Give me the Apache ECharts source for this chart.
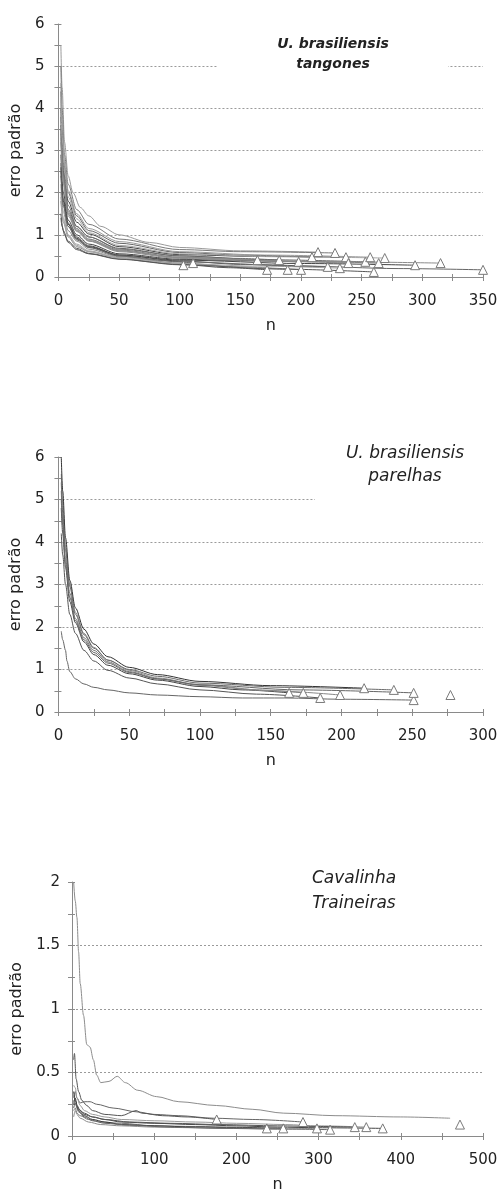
<!DOCTYPE html>
<html>
<head>
<meta charset="utf-8">
<script src="https://cdn.jsdelivr.net/npm/echarts@6/dist/echarts.min.js"></script>
<style>html,body{margin:0;padding:0;background:#fff}#c{width:501px;height:1195px}</style>
</head>
<body>
<div id="c"></div>
<script>
// ---------- DATA ----------
// Panel 1: U. brasiliensis tangones  (each curve: [n, erro padrão])
const tangCurves = [
  [[2,1.8],[4,1.3],[8,0.95],[15,0.72],[25,0.6],[50,0.45],[75,0.36],[103,0.28]],
  [[2,2.4],[4,1.7],[8,1.2],[15,0.9],[25,0.7],[50,0.5],[80,0.4],[111,0.33]],
  [[2,3.4],[4,2.3],[8,1.5],[15,1.12],[25,0.88],[50,0.62],[100,0.46],[130,0.43],[164,0.40]],
  [[2,1.5],[4,1.1],[8,0.85],[15,0.68],[25,0.56],[50,0.43],[100,0.3],[140,0.22],[172,0.17]],
  [[2,3.8],[3,3.0],[5,2.2],[8,1.7],[15,1.2],[25,0.95],[50,0.66],[100,0.5],[150,0.44],[182,0.40]],
  [[2,2.0],[4,1.4],[8,1.0],[15,0.78],[25,0.62],[50,0.46],[100,0.32],[150,0.24],[189,0.17]],
  [[2,2.9],[4,2.0],[8,1.35],[15,1.0],[25,0.78],[50,0.55],[100,0.42],[150,0.39],[198,0.36]],
  [[2,2.2],[4,1.55],[8,1.1],[15,0.85],[25,0.66],[50,0.48],[100,0.33],[150,0.24],[200,0.17]],
  [[2,4.4],[3,3.5],[5,2.6],[8,2.0],[15,1.45],[25,1.1],[50,0.8],[100,0.58],[150,0.52],[209,0.47]],
  [[2,5.5],[3,4.5],[5,3.2],[8,2.4],[12,2.0],[18,1.65],[25,1.45],[35,1.2],[50,1.0],[75,0.82],[100,0.7],[150,0.62],[214,0.59]],
  [[2,2.7],[4,1.85],[8,1.28],[15,0.95],[25,0.74],[50,0.52],[100,0.38],[150,0.3],[222,0.24]],
  [[2,5.0],[3,4.0],[5,2.9],[8,2.2],[15,1.6],[25,1.25],[50,0.9],[100,0.65],[150,0.6],[228,0.57]],
  [[2,1.9],[4,1.35],[8,0.98],[15,0.75],[25,0.6],[50,0.44],[100,0.32],[160,0.26],[232,0.21]],
  [[2,4.0],[3,3.2],[5,2.4],[8,1.8],[15,1.3],[25,1.02],[50,0.72],[100,0.53],[160,0.49],[237,0.47]],
  [[2,3.2],[4,2.2],[8,1.45],[15,1.08],[25,0.85],[50,0.6],[100,0.44],[160,0.38],[239,0.33]],
  [[2,3.6],[4,2.45],[8,1.6],[15,1.2],[25,0.95],[50,0.68],[100,0.5],[170,0.41],[253,0.36]],
  [[2,4.6],[3,3.7],[5,2.7],[8,2.05],[15,1.5],[25,1.15],[50,0.84],[100,0.6],[170,0.52],[257,0.47]],
  [[2,1.4],[3,1.2],[5,1.0],[8,0.82],[15,0.65],[25,0.55],[50,0.42],[100,0.29],[180,0.19],[260,0.12]],
  [[2,3.5],[4,2.4],[8,1.55],[15,1.15],[25,0.9],[50,0.64],[100,0.47],[180,0.38],[264,0.33]],
  [[2,4.2],[3,3.3],[5,2.5],[8,1.9],[15,1.38],[25,1.05],[50,0.75],[100,0.55],[180,0.48],[269,0.45]],
  [[2,2.6],[4,1.8],[8,1.25],[15,0.92],[25,0.72],[50,0.52],[100,0.4],[200,0.32],[294,0.28]],
  [[2,3.3],[4,2.25],[8,1.5],[15,1.1],[25,0.86],[50,0.62],[100,0.46],[200,0.37],[315,0.33]],
  [[2,2.5],[4,1.7],[8,1.2],[15,0.88],[25,0.7],[50,0.5],[100,0.36],[200,0.26],[280,0.2],[350,0.17]]
];
// Panel 2: U. brasiliensis parelhas
const parCurves = [
  [[2,1.9],[3,1.7],[5,1.45],[6,1.2],[8,0.95],[12,0.78],[18,0.66],[25,0.58],[35,0.52],[50,0.45],[70,0.4],[100,0.36],[130,0.33],[160,0.33],[200,0.3],[251,0.28]],
  [[2,4.8],[3,4.2],[5,3.4],[8,2.6],[12,2.1],[18,1.65],[25,1.35],[35,1.1],[50,0.9],[70,0.75],[100,0.6],[130,0.52],[163,0.45]],
  [[2,5.2],[3,4.5],[5,3.6],[8,2.8],[12,2.2],[18,1.75],[25,1.45],[35,1.18],[50,0.95],[70,0.78],[100,0.63],[140,0.52],[173,0.45]],
  [[2,4.2],[3,3.7],[5,3.0],[8,2.3],[12,1.85],[18,1.45],[25,1.2],[35,0.98],[50,0.8],[70,0.66],[100,0.52],[140,0.42],[185,0.33]],
  [[2,5.6],[3,4.9],[5,3.9],[8,3.0],[12,2.35],[18,1.85],[25,1.52],[35,1.22],[50,0.98],[70,0.8],[100,0.64],[150,0.5],[199,0.40]],
  [[2,6.0],[3,5.2],[5,4.1],[8,3.1],[12,2.45],[18,1.95],[25,1.6],[35,1.3],[50,1.05],[70,0.88],[100,0.72],[150,0.62],[216,0.56]],
  [[2,5.4],[3,4.7],[5,3.8],[8,2.95],[12,2.3],[18,1.82],[25,1.5],[35,1.22],[50,1.0],[70,0.84],[100,0.68],[160,0.58],[237,0.52]],
  [[2,5.0],[3,4.4],[5,3.5],[8,2.7],[12,2.15],[18,1.7],[25,1.4],[35,1.15],[50,0.93],[70,0.78],[100,0.64],[170,0.52],[251,0.45]],
  [[277,0.40]]
];
// Panel 3: Cavalinha Traineiras
const cavCurves = [
  [[2,2.0],[4,1.85],[6,1.72],[8,1.45],[10,1.2],[14,0.95],[18,0.72],[22,0.7],[26,0.6],[30,0.48],[35,0.42],[45,0.43],[55,0.47],[65,0.42],[80,0.36],[103,0.31],[130,0.27],[176,0.24],[220,0.21],[257,0.18],[320,0.16],[400,0.15],[460,0.14]],
  [[2,0.3],[4,0.35],[6,0.3],[10,0.26],[15,0.27],[22,0.27],[30,0.25],[50,0.22],[79,0.19],[100,0.17],[130,0.16],[172,0.14],[220,0.13],[281,0.11]],
  [[2,0.6],[3,0.65],[5,0.45],[8,0.35],[12,0.28],[18,0.24],[25,0.2],[40,0.17],[60,0.16],[78,0.2],[85,0.18],[110,0.16],[140,0.15],[176,0.13]],
  [[2,0.4],[4,0.38],[6,0.3],[10,0.24],[15,0.2],[25,0.17],[40,0.15],[60,0.13],[100,0.12],[150,0.11],[200,0.1],[260,0.09],[300,0.08],[358,0.07]],
  [[2,0.25],[4,0.3],[6,0.24],[10,0.2],[15,0.17],[25,0.15],[40,0.13],[60,0.11],[100,0.1],[150,0.09],[200,0.08],[250,0.07],[300,0.065],[378,0.06]],
  [[2,0.2],[4,0.22],[6,0.18],[10,0.16],[20,0.13],[35,0.11],[60,0.1],[100,0.08],[150,0.075],[200,0.07],[237,0.06]],
  [[2,0.35],[4,0.28],[8,0.2],[15,0.16],[25,0.13],[40,0.11],[60,0.09],[100,0.08],[150,0.07],[200,0.065],[257,0.06]],
  [[2,0.15],[4,0.2],[6,0.17],[10,0.14],[20,0.11],[35,0.09],[60,0.08],[100,0.07],[150,0.065],[200,0.06],[250,0.055],[298,0.06]],
  [[2,0.28],[4,0.25],[8,0.19],[15,0.15],[25,0.12],[40,0.1],[70,0.085],[120,0.07],[180,0.06],[250,0.055],[314,0.05]],
  [[2,0.22],[4,0.26],[8,0.21],[15,0.18],[25,0.15],[40,0.13],[70,0.11],[120,0.1],[180,0.09],[250,0.08],[300,0.075],[344,0.07]],
  [[472,0.09]]
];
// curves whose last point carries no triangle marker: [panel, curve]
const unmarked = [[2, 0]];
// axis ranges: [min, max, label interval]
const tangX = [0, 350, 50], tangY = [0, 6, 1];
const parX = [0, 300, 50],  parY = [0, 6, 1];
const cavX = [0, 500, 100], cavY = [0, 2, 0.5];
const titles = ['U. brasiliensis\ntangones', 'U. brasiliensis\nparelhas', 'Cavalinha\nTraineiras'];
const xName = 'n', yName = 'erro padrão';

// ---------- CHART ----------
const FONT = 'DejaVu Sans';
const AX = '#8a8a8a';
const grids = [
  {left: 57, right: 18, top: 24, height: 253},
  {left: 57, right: 18, top: 457, height: 255},
  {left: 72, right: 18, top: 882, height: 254}
];
const ranges = [[tangX, tangY], [parX, parY], [cavX, cavY]];
const yGaps = [30, 30, 45];
const yMargins = [14, 14, 12];
const palettes = [
  ['#8c8c8c','#666','#9a9a9a','#555','#7a7a7a','#a5a5a5','#444'],
  ['#666','#444','#777','#555','#888','#333','#6a6a6a'],
  ['#8c8c8c','#666','#555','#999','#444','#777','#333']
];

const xAxis = [], yAxis = [];
ranges.forEach(([xr, yr], g) => {
  const common = {gridIndex: g, type: 'value'};
  xAxis.push(Object.assign({}, common, {
    min: xr[0], max: xr[1], interval: xr[2],
    name: xName, nameLocation: 'middle', nameGap: 41,
    nameTextStyle: {fontFamily: FONT, fontSize: 16, color: '#222'},
    axisLine: {show: true, onZero: false, lineStyle: {color: AX, width: 1}},
    axisTick: {show: true, length: 4, lineStyle: {color: AX}},
    minorTick: {show: true, splitNumber: 2, length: 4, lineStyle: {color: AX}},
    axisLabel: {fontFamily: FONT, fontSize: 15, color: '#222', margin: 17},
    splitLine: {show: false}
  }));
  xAxis.push(Object.assign({}, common, {
    min: xr[0], max: xr[1], interval: xr[2], position: 'bottom',
    axisLine: {show: false},
    axisTick: {show: true, inside: true, length: 3, lineStyle: {color: AX}},
    minorTick: {show: true, splitNumber: 2, length: 3, lineStyle: {color: AX}},
    axisLabel: {show: false}, splitLine: {show: false}
  }));
  yAxis.push(Object.assign({}, common, {
    min: yr[0], max: yr[1], interval: yr[2],
    name: yName, nameLocation: 'middle', nameGap: yGaps[g], nameRotate: 90,
    nameTextStyle: {fontFamily: FONT, fontSize: 16, color: '#222'},
    axisLine: {show: true, onZero: false, lineStyle: {color: AX, width: 1}},
    axisTick: {show: true, length: 4, lineStyle: {color: AX}},
    minorTick: {show: true, splitNumber: 2, length: 4, lineStyle: {color: AX}},
    axisLabel: {fontFamily: FONT, fontSize: 15, color: '#222', margin: yMargins[g]},
    splitLine: {show: true, showMinLine: false, showMaxLine: false,
                lineStyle: {color: '#9a9a9a', width: 1, type: [2, 2]}}
  }));
  yAxis.push(Object.assign({}, common, {
    min: yr[0], max: yr[1], interval: yr[2], position: 'left',
    axisLine: {show: false},
    axisTick: {show: true, inside: true, length: 3, lineStyle: {color: AX}},
    minorTick: {show: true, splitNumber: 2, length: 3, lineStyle: {color: AX}},
    axisLabel: {show: false}, splitLine: {show: false}
  }));
});

const series = [];
[tangCurves, parCurves, cavCurves].forEach((curves, g) => {
  curves.forEach((c, i) => {
    const last = c.length - 1;
    const marked = !unmarked.some(u => u[0] === g && u[1] === i);
    series.push({
      type: 'line', xAxisIndex: g * 2, yAxisIndex: g * 2,
      data: c, smooth: 0.3, smoothMonotone: 'x',
      showSymbol: true, showAllSymbol: true, symbol: 'triangle',
      symbolSize: (v, p) => (marked && p.dataIndex === last) ? 9 : 0,
      lineStyle: {width: 1, color: palettes[g][i % palettes[g].length]},
      itemStyle: {color: '#fff', borderColor: '#7a7a7a', borderWidth: 1},
      silent: true, z: 3
    });
  });
});

const titleFont = ['italic bold 14px "DejaVu Sans"', 'italic 17px "DejaVu Sans"', 'italic 17px "DejaVu Sans"'];
const graphic = [
  {type: 'rect', z: 50, shape: {x: 218, y: 30, width: 230, height: 46}, style: {fill: '#fff'}},
  {type: 'rect', z: 50, shape: {x: 315, y: 438, width: 186, height: 70}, style: {fill: '#fff'}},
  {type: 'text', z: 60, style: {text: titles[0], x: 333, y: 34, textAlign: 'center', textVerticalAlign: 'top', font: titleFont[0], fill: '#222', lineHeight: 20}},
  {type: 'text', z: 60, style: {text: titles[1], x: 405, y: 442, textAlign: 'center', textVerticalAlign: 'top', font: titleFont[1], fill: '#222', lineHeight: 23}},
  {type: 'text', z: 60, style: {text: titles[2], x: 354, y: 866, textAlign: 'center', textVerticalAlign: 'top', font: titleFont[2], fill: '#222', lineHeight: 25}}
];

const chart = echarts.init(document.getElementById('c'), null, {renderer: 'canvas'});
chart.setOption({
  animation: false,
  backgroundColor: '#fff',
  grid: grids,
  xAxis, yAxis, series, graphic
});
</script>
</body>
</html>
